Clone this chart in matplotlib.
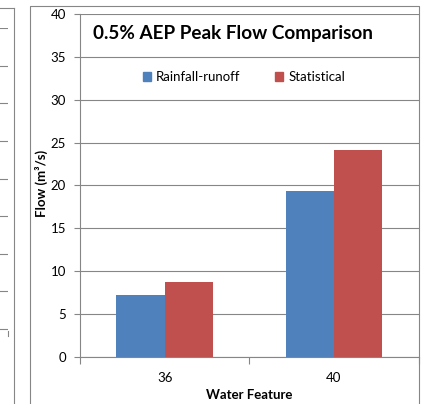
"""
0.5% AEP peak flow comparison, grouped bars
"""
import numpy as np
import matplotlib.pyplot as plt
from matplotlib.lines import Line2D
from matplotlib.patches import Patch

features = ['36', '40']
rainfall_runoff = [7.2, 19.4]
statistical = [8.7, 24.1]
series_names = ['Rainfall-runoff', 'Statistical']
colors = ['#4F81BD', '#C0504D']
y_ticks = [0, 5, 10, 15, 20, 25, 30, 35, 40]

W, H = 423, 404
plt.rcParams['font.family'] = ['Lato', 'DejaVu Sans']

fig = plt.figure(figsize=(W / 100, H / 100), dpi=100)


def fx(px):
    return px / W


def fy(py):
    return 1 - py / H


# scrap of the neighbouring chart at the left edge
ax_n = fig.add_axes([fx(-60), fy(331), fx(68), fy(28) - fy(331)])
ax_n.set_ylim(-0.05, 8)
ax_n.set_yticks(range(9))
ax_n.grid(axis='y', color='#868686', lw=0.8)
ax_n.tick_params(left=False, bottom=False, labelleft=False, labelbottom=False)
for s in ax_n.spines.values():
    s.set_visible(False)
fig.add_artist(Line2D([fx(8), fx(8)], [fy(330.5), fy(336)], color='#868686', lw=0.8))
fig.add_artist(Line2D([fx(0), fx(13.5)], [fy(8), fy(8)], color='#868686', lw=0.8))
fig.add_artist(Line2D([fx(13.5), fx(13.5)], [fy(8), fy(410)], color='#868686', lw=0.8))

# frame of this chart
fig.add_artist(Line2D([fx(29.5), fx(29.5), fx(418.5), fx(418.5)],
                      [fy(410), fy(5.5), fy(5.5), fy(410)], color='#868686', lw=0.8))

ax = fig.add_axes([fx(80), fy(357), fx(418.5) - fx(80), fy(14) - fy(357)])
x = np.arange(len(features))
bw = 0.285
ax.bar(x - bw / 2, rainfall_runoff, bw, color=colors[0], label=series_names[0])
ax.bar(x + bw / 2, statistical, bw, color=colors[1], label=series_names[1])

ax.set_xlim(-0.5, len(features) - 0.5)
ax.set_ylim(0, 40)
ax.set_yticks(y_ticks)
ax.set_xticks(np.arange(len(features) + 1) - 0.5)
ax.set_xticklabels([])
ax.set_xticks(x, minor=True)
ax.set_xticklabels(features, minor=True)
ax.tick_params(axis='x', which='minor', length=0, pad=11, labelsize=9.5)
ax.tick_params(axis='x', which='major', length=5, color='#868686', width=0.8)
ax.tick_params(axis='y', length=4, color='#868686', width=0.8, pad=6, labelsize=9.5)
ax.grid(axis='y', color='#868686', lw=0.8)
ax.set_axisbelow(True)
for s in ['top', 'right']:
    ax.spines[s].set_visible(False)
for s in ['left', 'bottom']:
    ax.spines[s].set_color('#868686')
    ax.spines[s].set_linewidth(0.8)

fig.text(fx(233), fy(33), '0.5% AEP Peak Flow Comparison', ha='center', va='center',
         fontsize=13.6, fontweight='bold')
fig.text(fx(41), fy(183), 'Flow (m³/s)', rotation=90, ha='center', va='center',
         fontsize=9.5, fontweight='bold')
fig.text(fx(249), fy(395), 'Water Feature', ha='center', va='center',
         fontsize=9.5, fontweight='bold')

handles = [Patch(color=c) for c in colors]
fig.legend(handles, series_names, loc='center', bbox_to_anchor=(fx(244), fy(77)),
           ncol=2, frameon=False, fontsize=9.5, handlelength=0.6, handleheight=0.6,
           handletextpad=0.4, columnspacing=2.6)

plt.savefig('out.png', dpi=100)
